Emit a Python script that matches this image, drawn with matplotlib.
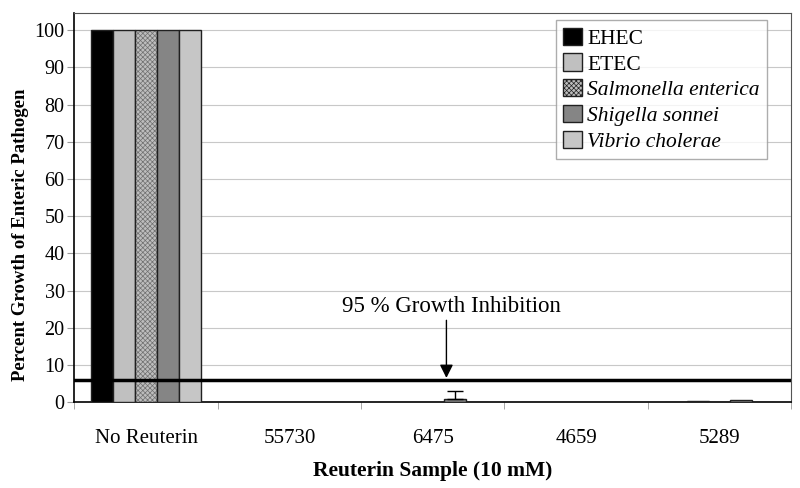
import matplotlib.pyplot as plt
import numpy as np

plt.rcParams['font.family'] = ['Liberation Serif', 'DejaVu Serif']
plt.rcParams['hatch.linewidth'] = 0.5

samples = ['No Reuterin', '55730', '6475', '4659', '5289']
pathogens = ['EHEC', 'ETEC', 'Salmonella enterica', 'Shigella sonnei', 'Vibrio cholerae']
italic = [False, False, True, True, True]

# percent growth per pathogen, one value per sample
growth = {
    'EHEC':                [100, 0, 0.0, 0, 0.0],
    'ETEC':                [100, 0, 0.0, 0, 0.3],
    'Salmonella enterica': [100, 0, 0.0, 0, 0.0],
    'Shigella sonnei':     [100, 0, 0.8, 0, 0.7],
    'Vibrio cholerae':     [100, 0, 0.0, 0, 0.0],
}
errors = {
    'EHEC':                [0, 0, 0, 0, 0],
    'ETEC':                [0, 0, 0, 0, 0],
    'Salmonella enterica': [0, 0, 0, 0, 0],
    'Shigella sonnei':     [0, 0, 2.2, 0, 0],
    'Vibrio cholerae':     [0, 0, 0, 0, 0],
}
threshold = 6

colors = ['#000000', '#c0c0c0', '#bdbdbd', '#858585', '#c6c6c6']
hatches = [None, None, 'xxxxxxx', None, None]
hatch_colors = ['#202020', '#202020', '#707070', '#202020', '#202020']

fig = plt.figure(figsize=(8, 4.88), dpi=100)
ax = fig.add_axes([0.093, 0.176, 0.896, 0.797])

x = np.arange(len(samples))
w = 0.153
for i, p in enumerate(pathogens):
    vals = np.array(growth[p])
    err = np.array(errors[p])
    pos = x + (i - 2) * w
    if hatches[i]:
        ax.bar(pos, vals, width=w, color=colors[i], edgecolor=hatch_colors[i],
               linewidth=0, hatch=hatches[i], zorder=3)
        ax.bar(pos, vals, width=w, color='none', edgecolor='#202020',
               linewidth=1.0, zorder=3)
        ax.bar([0], [0], width=0, color=colors[i], edgecolor='#202020',
               hatch=hatches[i], label=p)
    else:
        ax.bar(pos, vals, width=w, color=colors[i], edgecolor='#202020',
               linewidth=1.0, label=p, zorder=3)
    mask = err > 0
    if mask.any():
        ax.errorbar(pos[mask], vals[mask], yerr=[np.zeros(mask.sum()), err[mask]],
                    fmt='none', ecolor='black', elinewidth=1, capsize=6,
                    capthick=1, zorder=4)

ax.axhline(threshold, color='black', linewidth=2.5, zorder=5)
ax.text(2.13, 25.8, '95 % Growth Inhibition', ha='center', va='center', fontsize=16.5)
ax.annotate('', xy=(2.095, threshold + 0.5), xytext=(2.095, 22),
            arrowprops=dict(arrowstyle='-|>', color='black', lw=1,
                            mutation_scale=20, shrinkA=0, shrinkB=0))

ax.set_xlim(-0.5, len(samples) - 0.5)
ax.set_ylim(0, 104.6)
ax.set_yticks(np.arange(0, 101, 10))
ax.set_xticks(x)
ax.set_xticklabels(samples)
ax.set_xticks(np.arange(-0.5, len(samples), 1), minor=True)
ax.tick_params(axis='x', which='major', length=0, labelsize=15, pad=19)
ax.tick_params(axis='x', which='minor', length=5, color='#999999')
ax.tick_params(axis='y', labelsize=14.5, length=5, color='#999999', pad=2)
ax.yaxis.grid(True, color='#c8c8c8', linewidth=0.8, zorder=0)
ax.set_axisbelow(True)
for s in ['top', 'right']:
    ax.spines[s].set_color('#555555')
ax.spines['left'].set_linewidth(1.2)
ax.spines['bottom'].set_linewidth(1.2)

ax.set_ylabel('Percent Growth of Enteric Pathogen', fontsize=13.5, fontweight='bold')
ax.yaxis.set_label_coords(-0.064, 0.43)
ax.set_xlabel('Reuterin Sample (10 mM)', fontsize=15.5, fontweight='bold', labelpad=10)

leg = ax.legend(loc='upper right', bbox_to_anchor=(0.9665, 0.982), fontsize=15.5,
                frameon=True, fancybox=False, edgecolor='#999999',
                handlelength=0.85, handleheight=0.85, handletextpad=0.25,
                labelspacing=0.22, borderpad=0.35, borderaxespad=0)
leg.get_frame().set_linewidth(1.0)
for t, it in zip(leg.get_texts(), italic):
    if it:
        t.set_fontstyle('italic')

fig.savefig('out.png', dpi=100)
